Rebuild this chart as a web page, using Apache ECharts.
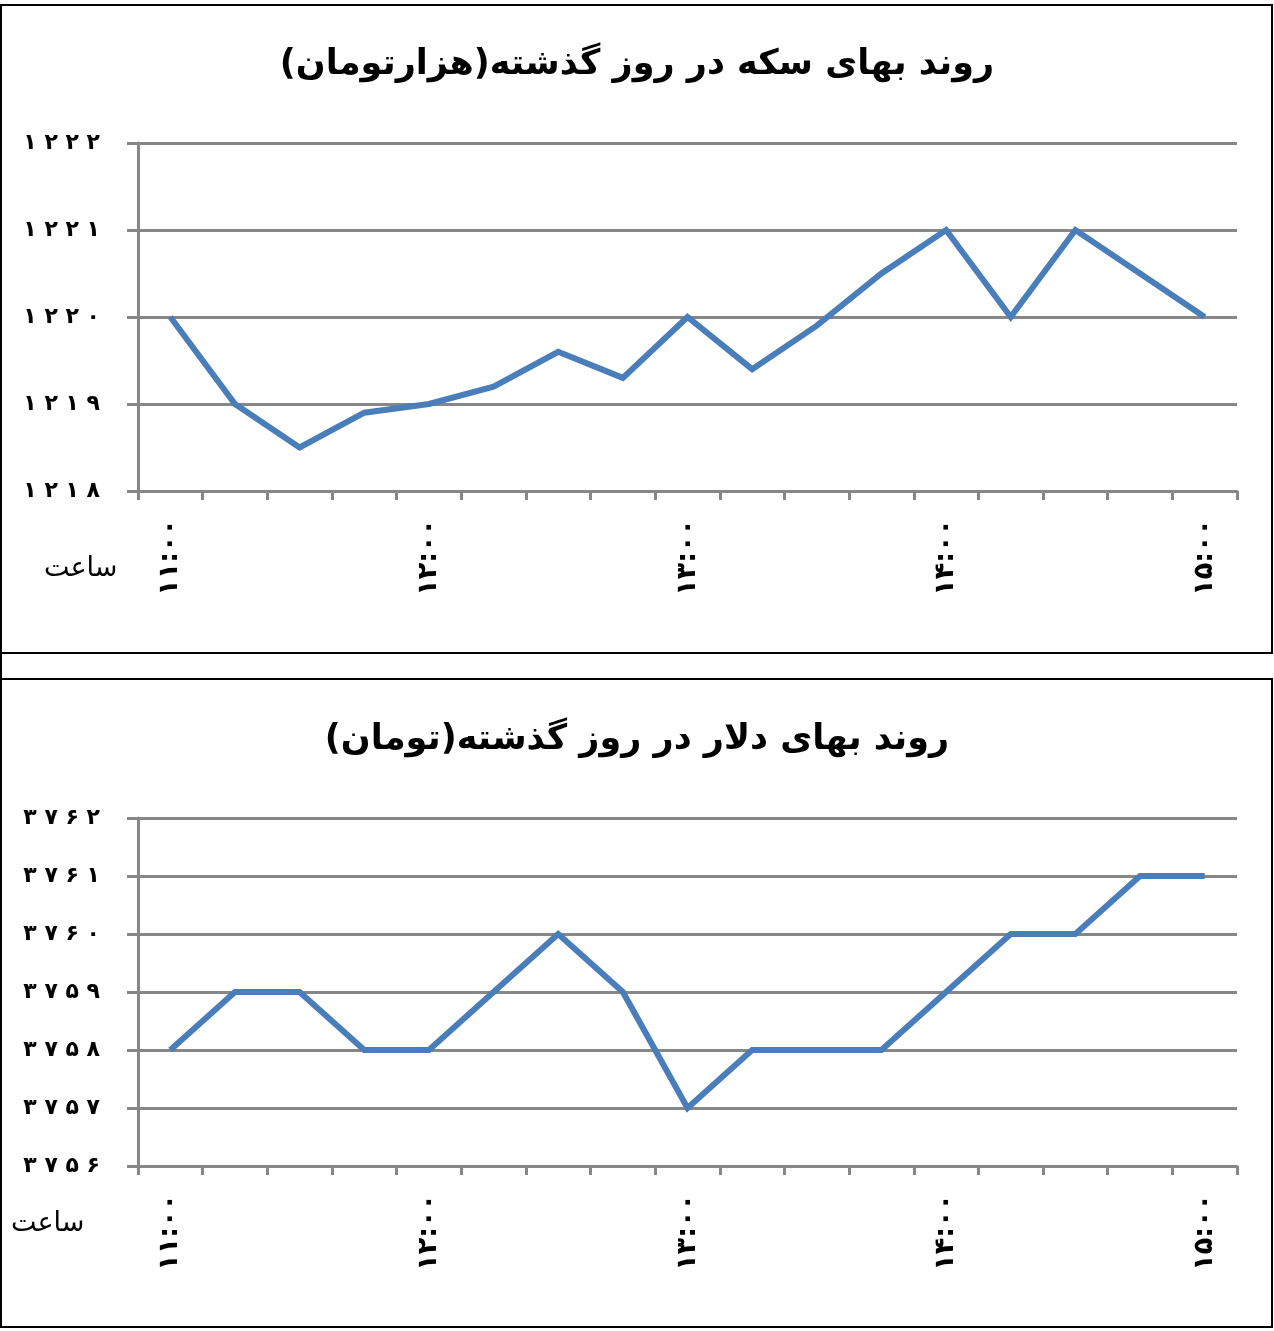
<!DOCTYPE html>
<html>
<head>
<meta charset="utf-8">
<script src="https://cdn.jsdelivr.net/npm/echarts@6/dist/echarts.min.js"></script>
<style>
html,body{margin:0;padding:0;background:#fff;}
#c{width:1274px;height:1331px;}
</style>
</head>
<body>
<div id="c"></div>
<script>
// categories: every 15 minutes from 11:00 to 15:00
const times = ['۱۱:۰۰','۱۱:۱۵','۱۱:۳۰','۱۱:۴۵','۱۲:۰۰','۱۲:۱۵','۱۲:۳۰','۱۲:۴۵','۱۳:۰۰','۱۳:۱۵','۱۳:۳۰','۱۳:۴۵','۱۴:۰۰','۱۴:۱۵','۱۴:۳۰','۱۴:۴۵','۱۵:۰۰'];
const coinValues = [1220, 1219, 1218.5, 1218.9, 1219, 1219.2, 1219.6, 1219.3, 1220, 1219.4, 1219.9, 1220.5, 1221, 1220, 1221, 1220.5, 1220];
const dollarValues = [3758, 3759, 3759, 3758, 3758, 3759, 3760, 3759, 3757, 3758, 3758, 3758, 3759, 3760, 3760, 3761, 3761];
const coinTickValues = [1218, 1219, 1220, 1221, 1222];
const coinTickLabels = ['۱ ۲ ۱ ۸', '۱ ۲ ۱ ۹', '۱ ۲ ۲ ۰', '۱ ۲ ۲ ۱', '۱ ۲ ۲ ۲'];
const dollarTickValues = [3756, 3757, 3758, 3759, 3760, 3761, 3762];
const dollarTickLabels = ['۳ ۷ ۵ ۶', '۳ ۷ ۵ ۷', '۳ ۷ ۵ ۸', '۳ ۷ ۵ ۹', '۳ ۷ ۶ ۰', '۳ ۷ ۶ ۱', '۳ ۷ ۶ ۲'];
const coinTitle = 'روند بهای سکه در روز گذشته(هزارتومان)';
const dollarTitle = 'روند بهای دلار در روز گذشته(تومان)';
const xName = 'ساعت';

const FONT = '"DejaVu Sans", sans-serif';
const GRIDC = '#878787';
const LINEC = '#4A7EBB';

function xAxisCfg(gi) {
  return {
    type: 'category', gridIndex: gi, data: times, boundaryGap: true,
    axisLine: { lineStyle: { color: GRIDC, width: 3 } },
    axisTick: { show: true, length: 9, interval: 0, lineStyle: { color: GRIDC, width: 3 } },
    axisLabel: { interval: 3, rotate: 90, margin: 28, color: '#000', fontFamily: FONT, fontWeight: 'bold', fontSize: 27 },
    splitLine: { show: false }
  };
}
function yAxisCfg(gi, vals, labels) {
  return {
    type: 'value', gridIndex: gi, min: vals[0], max: vals[vals.length - 1], interval: 1,
    axisLine: { show: true, lineStyle: { color: GRIDC, width: 3 } },
    axisTick: { show: true, length: 11, lineStyle: { color: GRIDC, width: 3 } },
    axisLabel: {
      margin: 38, color: '#000', fontFamily: FONT, fontWeight: 'bold', fontSize: 22,
      formatter: v => { const i = vals.indexOf(Math.round(v)); return i >= 0 ? labels[i] : ''; }
    },
    splitLine: { show: true, lineStyle: { color: GRIDC, width: 3 } }
  };
}

const chart = echarts.init(document.getElementById('c'), null, { renderer: 'canvas' });
chart.setOption({
  backgroundColor: '#fff',
  animation: false,
  title: [
    { text: coinTitle, left: 'center', top: 42, textStyle: { fontFamily: FONT, fontWeight: 'bold', fontSize: 35, color: '#000' } },
    { text: dollarTitle, left: 'center', top: 717, textStyle: { fontFamily: FONT, fontWeight: 'bold', fontSize: 35, color: '#000' } }
  ],
  grid: [
    { left: 138, right: 37, top: 143, height: 348 },
    { left: 138, right: 37, top: 818, height: 348 }
  ],
  xAxis: [xAxisCfg(0), xAxisCfg(1)],
  yAxis: [yAxisCfg(0, coinTickValues, coinTickLabels), yAxisCfg(1, dollarTickValues, dollarTickLabels)],
  series: [
    { type: 'line', xAxisIndex: 0, yAxisIndex: 0, data: coinValues, showSymbol: false, lineStyle: { color: LINEC, width: 6, join: 'miter' }, itemStyle: { color: LINEC } },
    { type: 'line', xAxisIndex: 1, yAxisIndex: 1, data: dollarValues, showSymbol: false, lineStyle: { color: LINEC, width: 6, join: 'miter' }, itemStyle: { color: LINEC } }
  ],
  graphic: [
    { type: 'rect', shape: { x: 1, y: 5, width: 1271, height: 648 }, style: { fill: 'none', stroke: '#000', lineWidth: 2 }, silent: true },
    { type: 'rect', shape: { x: 1, y: 679, width: 1271, height: 648 }, style: { fill: 'none', stroke: '#000', lineWidth: 2 }, silent: true },
    { type: 'line', shape: { x1: 1, y1: 653, x2: 1, y2: 679 }, style: { stroke: '#000', lineWidth: 2 }, silent: true },
    { type: 'text', left: 44, top: 555, style: { text: xName, fontFamily: FONT, fontSize: 27, fill: '#000' }, silent: true },
    { type: 'text', left: 11, top: 1210, style: { text: xName, fontFamily: FONT, fontSize: 27, fill: '#000' }, silent: true }
  ]
});
</script>
</body>
</html>
